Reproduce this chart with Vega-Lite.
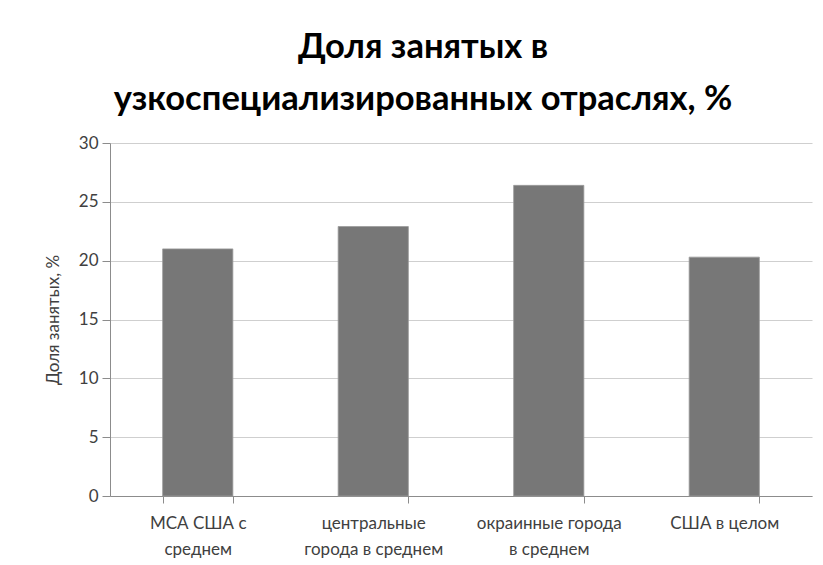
{
  "$schema": "https://vega.github.io/schema/vega-lite/v6.json",
  "width": 702,
  "height": 353,
  "autosize": {"type": "none"},
  "padding": {"left": 110, "top": 143, "right": 11, "bottom": 69},
  "background": "white",
  "title": {
    "text": ["Доля занятых в", "узкоспециализированных отраслях, %"],
    "font": "Lato",
    "fontSize": 34.5,
    "fontWeight": "bold",
    "color": "#000000",
    "lineHeight": 52,
    "anchor": "middle",
    "frame": "group",
    "dx": -38,
    "offset": 17
  },
  "data": {
    "values": [
      {"category": "МСА США с среднем", "value": 21.0},
      {"category": "центральные города в среднем", "value": 22.9},
      {"category": "окраинные города в среднем", "value": 26.4},
      {"category": "США в целом", "value": 20.3}
    ]
  },
  "mark": {"type": "bar", "color": "#777777", "stroke": "#9a9a9a", "strokeWidth": 0.8},
  "encoding": {
    "x": {
      "field": "category",
      "type": "nominal",
      "sort": null,
      "scale": {"paddingInner": 0.6, "paddingOuter": 0.3},
      "axis": {
        "title": null,
        "labelAngle": 0,
        "labelFont": "Lato",
        "labelFontSize": 17,
        "labelColor": "#404040",
        "labelLineHeight": 26,
        "labelPadding": 12,
        "labelLimit": 200,
        "tickBand": "extent",
        "tickSize": 7,
        "tickColor": "#8c8c8c",
        "domainColor": "#8c8c8c",
        "labelExpr": "datum.value == 'МСА США с среднем' ? ['МСА США с', 'среднем'] : datum.value == 'центральные города в среднем' ? ['центральные', 'города в среднем'] : datum.value == 'окраинные города в среднем' ? ['окраинные города', 'в среднем'] : datum.value"
      }
    },
    "y": {
      "field": "value",
      "type": "quantitative",
      "scale": {"domain": [0, 30], "nice": false},
      "axis": {
        "title": "Доля занятых, %",
        "titleFont": "Lato",
        "titleFontSize": 17,
        "titleFontWeight": "normal",
        "titleColor": "#404040",
        "titlePadding": 16,
        "values": [0, 5, 10, 15, 20, 25, 30],
        "labelFont": "Lato",
        "labelFontSize": 17,
        "labelColor": "#404040",
        "labelPadding": 4,
        "tickSize": 8,
        "tickColor": "#8c8c8c",
        "domainColor": "#8c8c8c",
        "grid": true,
        "gridColor": "#cfcfcf",
        "gridWidth": 1.2
      }
    }
  },
  "config": {
    "view": {"stroke": null}
  }
}
